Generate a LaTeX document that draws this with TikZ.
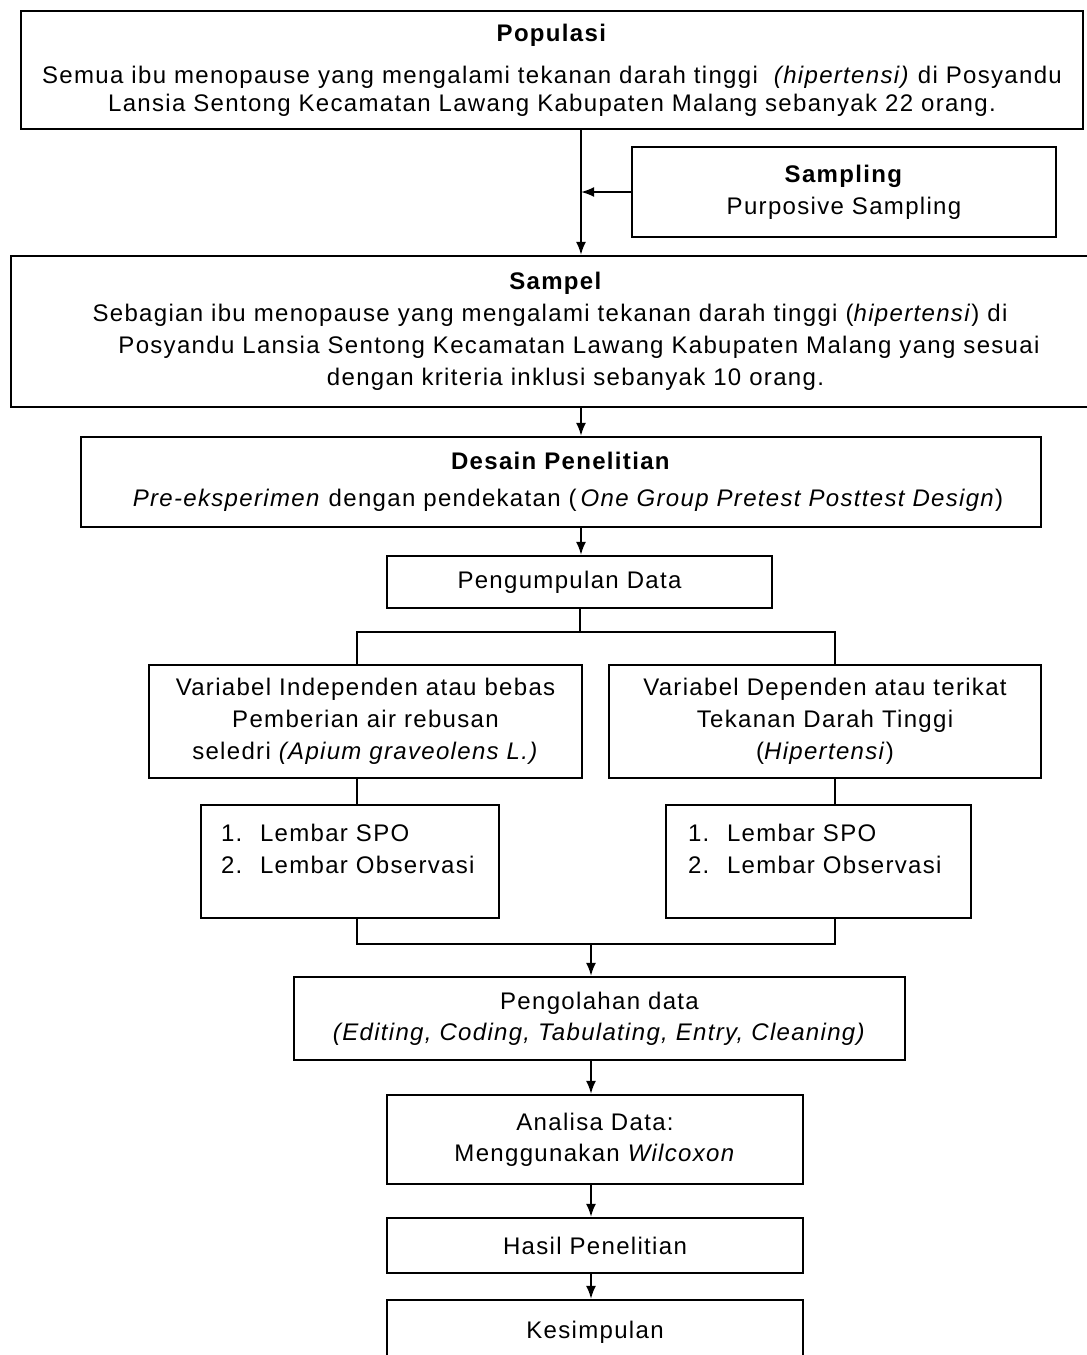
\documentclass[tikz,border=0pt]{standalone}
\usepackage{fontspec}
\setmainfont{Liberation Sans}
\newfontfamily\spaced{Liberation Sans}[LetterSpace=5.5]
\usetikzlibrary{arrows.meta}
\newcommand\txA{\spaced\fontsize{24}{28}\selectfont}
\newcommand\txB{\spaced\fontsize{24}{32}\selectfont}
\newcommand\txC{\spaced\fontsize{24}{31}\selectfont}
\tikzset{
  box/.style={draw, line width=2.2pt, rectangle, inner sep=0pt, align=center, font=\txB},
  ln/.style={line width=2pt},
  arr/.style={line width=2pt, -{Latex[length=13pt,width=10pt]}},
}
\begin{document}
\begin{tikzpicture}[x=1pt,y=-1pt]
\useasboundingbox (0,0) rectangle (1087,1355);
\fill[white] (0,0) rectangle (1087,1355);

\node[box, font=\txA, minimum width=1062pt, minimum height=118pt] (pop) at (552,70)
  {\textbf{Populasi}\\[14pt]
   Semua ibu menopause yang mengalami tekanan darah tinggi \ \textit{(hipertensi)} di Posyandu\\
   Lansia Sentong Kecamatan Lawang Kabupaten Malang sebanyak 22 orang.};

\node[box, minimum width=424pt, minimum height=90pt] (samp) at (844,192)
  {\textbf{Sampling}\\Purposive Sampling};

\node[box, minimum width=1078pt, minimum height=151pt] (sampel) at (550,331.5)
  {\hspace*{12pt}\textbf{Sampel}\\
   Sebagian ibu menopause yang mengalami tekanan darah tinggi (\textit{hipertensi}) di\\
   \hspace*{58pt}Posyandu Lansia Sentong Kecamatan Lawang Kabupaten Malang yang sesuai\\
   \hspace*{51pt}dengan kriteria inklusi sebanyak 10 orang.};

\node[box, minimum width=960pt, minimum height=90pt] (desain) at (561,482)
  {\textbf{Desain Penelitian}\\[5pt]
   \hspace*{14pt}\textit{Pre-eksperimen} dengan pendekatan (\,\textit{One Group Pretest Posttest Design})};

\node[box, minimum width=385pt, minimum height=52pt] (kumpul) at (579.5,582)
  {Pengumpulan Data\hspace*{20pt}};

\node[box, minimum width=433pt, minimum height=113pt] (ind) at (365.5,721.5)
  {Variabel Independen atau bebas\\
   Pemberian air rebusan\\
   seledri \textit{(Apium graveolens L.)}};

\node[box, minimum width=432pt, minimum height=113pt] (dep) at (825,721.5)
  {Variabel Dependen atau terikat\\
   Tekanan Darah Tinggi\hspace*{28pt}\\
   (\textit{Hipertensi})};

\node[box, align=left, text width=258pt, minimum width=298pt, minimum height=113pt] (spoL) at (350,861.5)
  {\makebox[39pt][l]{1.}Lembar SPO\\
   \makebox[39pt][l]{2.}Lembar Observasi\\[-7pt]\mbox{}};

\node[box, align=left, text width=261pt, minimum width=305pt, minimum height=113pt] (spoR) at (818.5,861.5)
  {\makebox[39pt][l]{1.}Lembar SPO\\
   \makebox[39pt][l]{2.}Lembar Observasi\\[-7pt]\mbox{}};

\node[box, font=\txC, minimum width=611pt, minimum height=83pt] (olah) at (599.5,1018.5)
  {Pengolahan data\\
   \textit{(Editing, Coding, Tabulating, Entry, Cleaning)}};

\node[box, font=\txC, minimum width=416pt, minimum height=89pt] (ana) at (595,1139.5)
  {Analisa Data:\\
   Menggunakan \textit{Wilcoxon}};

\node[box, minimum width=416pt, minimum height=55pt] (hasil) at (595,1245.5)
  {Hasil Penelitian};

\node[box, minimum width=416pt, minimum height=64pt] (kes) at (595,1332)
  {Kesimpulan};

% connectors
\coordinate (m) at (581,0);
\coordinate (hL) at (357,632);
\coordinate (hR) at (835,632);
\coordinate (bL) at (357,944);
\coordinate (bR) at (835,944);
\coordinate (bM) at (591,944);

\draw[arr] (pop.south -| m) -- (sampel.north -| m);
\draw[arr] (samp.west) -- (samp.west -| m);
\draw[arr] (sampel.south -| m) -- (desain.north -| m);
\draw[arr] (desain.south -| m) -- (kumpul.north -| m);
\draw[ln] (kumpul.south) -- (kumpul.south |- hL);
\draw[ln] (ind.north -| hL) -- (hL) -- (hR) -- (dep.north -| hR);
\draw[ln] (ind.south -| hL) -- (spoL.north -| hL);
\draw[ln] (dep.south -| hR) -- (spoR.north -| hR);
\draw[ln] (spoL.south -| bL) -- (bL) -- (bR) -- (spoR.south -| bR);
\draw[arr] (bM) -- (olah.north -| bM);
\draw[arr] (olah.south -| bM) -- (ana.north -| bM);
\draw[arr] (ana.south -| bM) -- (hasil.north -| bM);
\draw[arr] (hasil.south -| bM) -- (kes.north -| bM);
\end{tikzpicture}
\end{document}
